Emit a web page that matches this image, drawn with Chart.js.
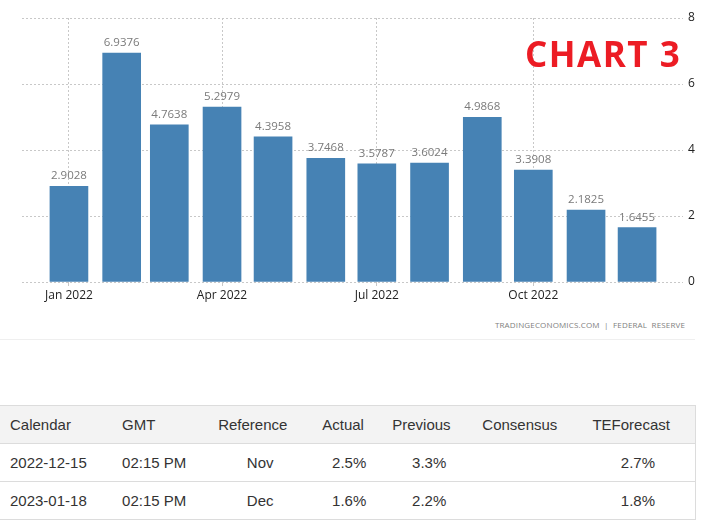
<!DOCTYPE html>
<html>
<head>
<meta charset="utf-8">
<script src="https://cdn.jsdelivr.net/npm/chart.js@4.4.1/dist/chart.umd.min.js"></script>
<style>
  html, body { margin: 0; padding: 0; background: #fff; }
  body { width: 707px; height: 522px; position: relative; overflow: hidden; }
  #wrap { position: absolute; left: 0; top: 0; width: 707px; height: 312px; }
  #source { position: absolute; top: 319px; right: 22px; font: 8px "Open Sans", sans-serif; color: #808080; letter-spacing: 0.15px; white-space: pre; }
  #sep { position: absolute; top: 339px; left: 0; width: 695px; height: 1px; background: #efefef; }
  table { position: absolute; top: 405px; left: 0; width: 696px; border-collapse: collapse; table-layout: fixed;
          font: 15px "Liberation Sans", Arial, sans-serif; color: #333; }
  th, td { border-top: 1px solid #dcdcdc; border-bottom: 1px solid #dcdcdc; padding: 0; font-weight: normal; }
  th { background: #f3f3f3; height: 37px; text-align: left; padding-left: 10px; }
  td { height: 37px; }
  tr > :last-child { border-right: 1px solid #dcdcdc; }
</style>
</head>
<body>
<div id="wrap"><canvas id="c" width="707" height="312"></canvas></div>
<div id="source">TRADINGECONOMICS.COM  |  FEDERAL  RESERVE</div>
<div id="sep"></div>
<table id="tbl"><colgroup></colgroup><thead><tr></tr></thead><tbody></tbody></table>
<script>
// ---- chart data ----
const months = ['Jan','Feb','Mar','Apr','May','Jun','Jul','Aug','Sep','Oct','Nov','Dec'];
const dayOfYear = [0, 31, 59, 90, 120, 151, 181, 212, 243, 273, 304, 334];
const values = [2.9028, 6.9376, 4.7638, 5.2979, 4.3958, 3.7468, 3.5787, 3.6024, 4.9868, 3.3908, 2.1825, 1.6455];
const xTickDays = [0, 90, 181, 273];
const xTickLabels = ['Jan 2022', 'Apr 2022', 'Jul 2022', 'Oct 2022'];
const yTicks = [0, 2, 4, 6, 8];

// ---- table data ----
const tableHeaders = ['Calendar', 'GMT', 'Reference', 'Actual', 'Previous', 'Consensus', 'TEForecast'];
const tableRows = [
  ['2022-12-15', '02:15 PM', 'Nov', '2.5%', '3.3%', '', '2.7%'],
  ['2023-01-18', '02:15 PM', 'Dec', '1.6%', '2.2%', '', '1.8%']
];

// table layout
const colWidths = [112, 96, 104, 70, 90, 110, 113];
const cellStyle = [
  'text-align:left;padding-left:10px',
  'text-align:left;padding-left:10px',
  'text-align:center',
  'text-align:right;padding-right:16px',
  'text-align:right;padding-right:26px',
  'text-align:right',
  'text-align:right;padding-right:40px'
];
const tbl = document.getElementById('tbl');
tbl.querySelector('colgroup').innerHTML = colWidths.map(w => '<col style="width:' + w + 'px">').join('');
tbl.querySelector('thead tr').innerHTML = tableHeaders.map(h => '<th>' + h + '</th>').join('');
tbl.querySelector('tbody').innerHTML = tableRows.map(r =>
  '<tr>' + r.map((v, i) => '<td style="' + cellStyle[i] + '">' + v + '</td>').join('') + '</tr>').join('');

// ---- chart ----
const labelPlugin = {
  id: 'valueLabels',
  afterDatasetsDraw(chart) {
    const ctx = chart.ctx;
    const meta = chart.getDatasetMeta(0);
    ctx.save();
    ctx.font = '11.5px "Open Sans", sans-serif';
    ctx.fillStyle = '#7a7a7a';
    ctx.textAlign = 'center';
    ctx.textBaseline = 'alphabetic';
    meta.data.forEach((bar, i) => {
      ctx.fillText(values[i].toFixed(4), bar.x, bar.y - 7);
    });
    ctx.restore();
  }
};
const stampPlugin = {
  id: 'stamp',
  afterDraw(chart) {
    const ctx = chart.ctx;
    ctx.save();
    ctx.font = 'bold 35px "Open Sans", sans-serif';
    ctx.fillStyle = '#ec1c24';
    ctx.textAlign = 'left';
    ctx.textBaseline = 'alphabetic';
    if ('letterSpacing' in ctx) ctx.letterSpacing = '1.5px';
    ctx.fillText('CHART 3', 525, 67);
    ctx.restore();
  }
};

new Chart(document.getElementById('c'), {
  type: 'bar',
  data: {
    datasets: [{
      label: 'Value',
      data: dayOfYear.map((d, i) => ({ x: d, y: values[i] })),
      backgroundColor: '#4682b4',
      borderWidth: 0,
      barThickness: 38
    }]
  },
  options: {
    responsive: false,
    animation: false,
    devicePixelRatio: 1,
    layout: { padding: { left: 22, top: 18, right: 0, bottom: 0 } },
    plugins: { legend: { display: false }, tooltip: { enabled: false } },
    scales: {
      x: {
        type: 'linear',
        min: -27.6,
        max: 361,
        offset: false,
        afterBuildTicks(scale) { scale.ticks = xTickDays.map(v => ({ value: v })); },
        afterFit(scale) { scale.height = 30; },
        ticks: {
          autoSkip: false,
          maxRotation: 0,
          padding: 2,
          color: '#222',
          font: { family: '"Open Sans", sans-serif', size: 12 },
          callback(value) { const k = xTickDays.indexOf(value); return k >= 0 ? xTickLabels[k] : ''; }
        },
        grid: { offset: false, color: '#c8c8c8', tickLength: 4, drawTicks: true },
        border: { display: false, dash: [2, 2] }
      },
      y: {
        position: 'right',
        min: 0,
        max: 8,
        afterBuildTicks(scale) { scale.ticks = yTicks.map(v => ({ value: v })); },
        afterFit(scale) { scale.width = 24; },
        ticks: {
          padding: 5,
          color: '#222',
          font: { family: '"Open Sans", sans-serif', size: 12 }
        },
        grid: { color: '#c8c8c8', drawTicks: false },
        border: { display: false, dash: [2, 2] }
      }
    }
  },
  plugins: [labelPlugin, stampPlugin]
});
</script>
</body>
</html>
